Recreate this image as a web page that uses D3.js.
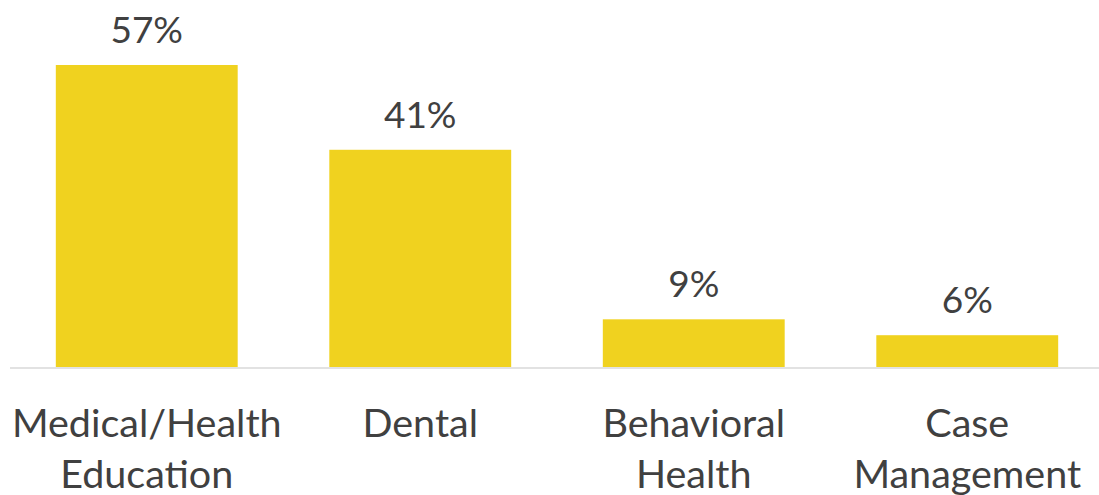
<!DOCTYPE html>
<html><head><meta charset="utf-8">
<script src="https://cdn.jsdelivr.net/npm/d3@7"></script>
<style>body{margin:0;background:#fff}svg{display:block}text{font-family:Lato,"Open Sans",sans-serif;fill:#404040}</style>
</head><body><svg id="c" width="1099" height="495"></svg>
<script>
const categories = [["Medical/Health","Education"],["Dental"],["Behavioral","Health"],["Case","Management"]];
const values = [57, 41, 9, 6];
const valueLabels = ["57%","41%","9%","6%"];

const W = 1099, H = 495;
const svg = d3.select("#c");
const x = d3.scaleBand().domain(d3.range(values.length)).range([10, 1104]).paddingInner(0.335).paddingOuter(0.1675);
const y = d3.scaleLinear().domain([0, 57]).range([367, 65]);

svg.selectAll("rect.bar").data(values).join("rect").attr("class","bar")
  .attr("x",(d,i)=>x(i)).attr("width",x.bandwidth())
  .attr("y",d=>y(d)).attr("height",d=>y(0)-y(d)).attr("fill","#F0D21F");

svg.append("line").attr("x1",10).attr("x2",W).attr("y1",y(0)+1).attr("y2",y(0)+1)
  .attr("stroke","#D9D9D9").attr("stroke-width",1.5);

svg.selectAll("text.val").data(values).join("text").attr("class","val")
  .attr("x",(d,i)=>x(i)+x.bandwidth()/2).attr("y",d=>y(d)-22)
  .attr("text-anchor","middle").attr("font-size",37).text((d,i)=>valueLabels[i]);

const g = svg.selectAll("text.cat").data(categories).join("text").attr("class","cat")
  .attr("text-anchor","middle").attr("font-size",39.5);
g.selectAll("tspan").data((d,i)=>d.map(l=>({l,i}))).join("tspan")
  .attr("x",d=>x(d.i)+x.bandwidth()/2).attr("y",(d,j)=>437+j*51).text(d=>d.l);
</script></body></html>
